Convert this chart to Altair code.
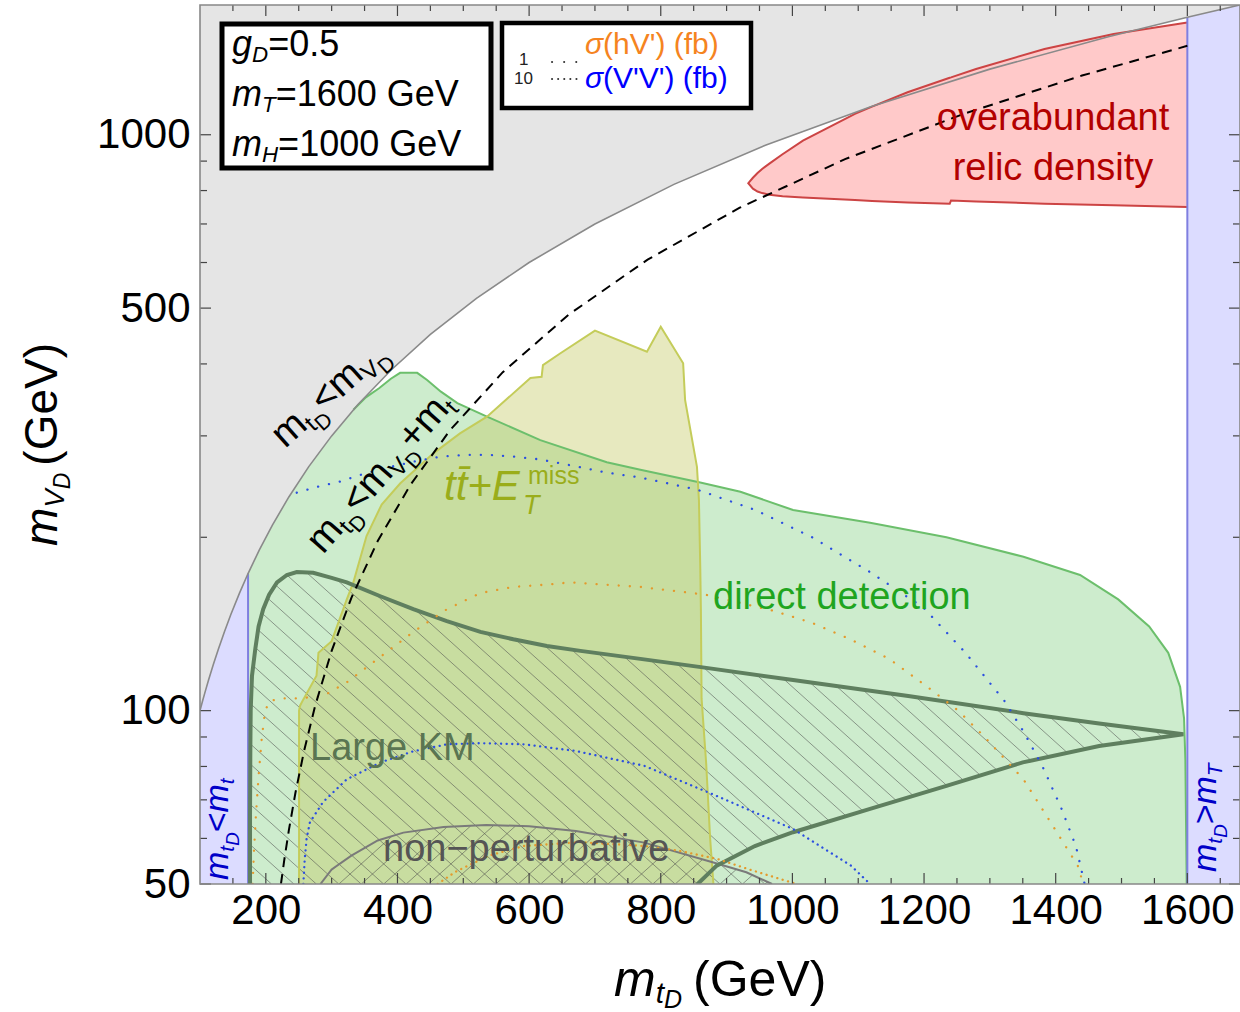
import numpy as np
import pandas as pd
import altair as alt

# ---------------- values ----------------
x_ticks_major = [200, 400, 600, 800, 1000, 1200, 1400, 1600]
x_ticks_minor = [150, 250, 300, 350, 450, 500, 550, 650, 700, 750, 850, 900, 950,
                 1050, 1100, 1150, 1250, 1300, 1350, 1450, 1500, 1550, 1650]
y_ticks_major = [50, 100, 500, 1000]
y_ticks_minor = [60, 70, 80, 90, 200, 300, 400, 600, 700, 800, 900]

# kinematic boundary m_tD = m_VD
diag_x = [100, 104, 108, 113, 120, 128, 137, 147, 160, 173, 190, 210, 235, 265, 300, 340,
          390, 450, 520, 600, 700, 820, 960, 1120, 1300, 1480, 1600, 1680]
diag_y = [100, 104, 108, 113, 120, 128, 137, 147, 160, 173, 190, 210, 235, 265, 300, 340,
          390, 450, 520, 600, 700, 820, 960, 1120, 1300, 1480, 1600, 1680]
# m_tD = m_VD + m_t (dashed)
dash_x = [223, 228, 235, 245, 258, 275, 300, 330, 370, 420, 480, 560, 660, 780, 920, 1080, 1260, 1440, 1600]
dash_y = [50, 55, 62, 72, 85, 102, 127, 157, 197, 247, 307, 387, 487, 607, 747, 907, 1087, 1267, 1427]

# direct detection region (upper edge, filled down to the axis)
dd_x = [173, 185, 200, 220, 250, 280, 310, 333, 352, 372, 390, 404, 430, 445, 466, 491, 536, 617,
        718, 769, 860, 921, 1001, 1118, 1234, 1351, 1437, 1495, 1542, 1571, 1589, 1595, 1597, 1599]
dd_y = [173, 185, 200, 220, 250, 280, 310, 333, 350, 363, 377, 386, 386, 375, 358, 342, 324, 295,
        270, 262, 249, 240, 223, 212, 200, 185, 172, 156, 140, 126, 110, 97, 82, 50]

# t tbar + MET exclusion (upper edge)
tt_x = [250.5, 252, 257, 277, 280, 300, 323, 333, 353, 376, 404, 455, 495, 536, 602, 619, 621, 647,
        700, 779, 800, 834, 837, 855, 858, 860, 861, 862, 869, 875, 880]
tt_y = [100, 102, 104.6, 115, 126, 132, 156, 167, 201, 228, 248, 280, 303, 324, 378, 380, 398, 417,
        457, 420, 464, 401, 346, 265, 232, 178, 149, 105, 81, 60, 50]

# overabundant relic density
rd_x = [933, 940, 947, 954, 965, 985, 1016, 1095, 1121, 1175, 1239, 1241, 1279, 1383, 1488, 1600]
rd_up = [824, 842, 858, 872, 891, 925, 977, 1087, 1119, 1185, 1256, 1258, 1301, 1409, 1496, 1567]
rd_lo = [824, 806, 797, 792, 787, 782, 778, 770, 767, 763, 759, 769, 766, 759, 754, 749]

# Large KM region
km_up_x = [176, 176, 176.5, 177, 179, 184, 189, 196, 205, 217, 232, 247, 272, 300, 323, 374, 424,
           475, 526, 576, 627, 678, 769, 861, 1001, 1176, 1351, 1466, 1594]
km_up_y = [50, 66, 86, 100, 115, 128, 140, 150, 159, 167, 172, 174, 173.5, 170, 167, 158, 150,
           143, 137, 133, 129.5, 127, 123, 119, 113, 106, 99, 95, 91]
km_lo_x = [1594, 1466, 1350, 1234, 1118, 1001, 943, 885, 856]
km_lo_y = [91, 86.8, 81.3, 74, 67.5, 61.5, 58.2, 53.8, 50]

# non-perturbative region
np_x = [283, 300, 330, 370, 409, 470, 535, 600, 671, 775, 880, 930, 969]
np_y = [50, 53, 56, 59.5, 61.4, 62.8, 63.3, 63, 61.8, 59, 54.5, 52.4, 50]

# sigma(V'V') contours: 1 fb and 10 fb
vv1_x = [247, 280, 313, 350, 389, 427, 465, 503, 541, 579, 617, 668, 718, 769, 855, 944, 1030,
         1118, 1199, 1263, 1322, 1351, 1380, 1409, 1431, 1444]
vv1_y = [239, 245, 250, 258, 265, 271, 276, 278, 278, 276, 273, 266, 259, 254, 242, 223, 200,
         174, 151, 126, 104, 92, 80, 67.5, 58, 50]
vv10_x = [257, 259, 262, 267, 287, 323, 374, 424, 475, 526, 592, 671, 775, 880, 1001, 1089, 1118]
vv10_y = [50, 55, 60, 64, 69.4, 76, 81.3, 85, 87.4, 87.8, 87.4, 85.1, 80.2, 71.5, 62.3, 53.8, 50]
# sigma(hV') contours: 1 fb and 10 fb
hv1_x = [180, 182, 185, 189, 194, 199, 206, 225, 247, 287, 323, 374, 424, 475, 526, 576, 627, 662,
         769, 868, 972, 1030, 1088, 1147, 1205, 1252, 1292, 1351, 1396, 1437, 1440]
hv1_y = [50, 57, 66, 77, 90, 100, 104, 105, 105, 106, 112, 124, 137, 150, 160, 164, 165.5, 167,
         164, 159, 149, 142, 133, 123, 110, 100, 90, 76, 63, 53, 50]
hv10_x = [461, 488, 539, 592, 678, 775, 828, 885, 932, 1006]
hv10_y = [50, 52.5, 56, 58.2, 59.1, 58.2, 57.1, 55.3, 53.1, 50]

m_top = 173
m_T = 1600

# ---------------- geometry of the plot area ----------------
W, H = 1040, 879
XMIN, XMAX, YMIN, YMAX = 100, 1680, 50, 1680
LEFT, TOP = 200, 5


def to_px(x):
    return (np.asarray(x, float) - XMIN) / (XMAX - XMIN) * W


def to_py(y):
    return H * (1 - np.log(np.asarray(y, float) / YMIN) / np.log(YMAX / YMIN))


def from_px(p):
    return XMIN + np.asarray(p) / W * (XMAX - XMIN)


def from_py(q):
    return YMIN * np.exp((1 - np.asarray(q) / H) * np.log(YMAX / YMIN))


XS = alt.Scale(domain=[XMIN, XMAX], nice=False, zero=False)
YS = alt.Scale(type="log", domain=[YMIN, YMAX], nice=False)
XAX = alt.Axis(values=x_ticks_major, title=None, grid=False, ticks=False, domain=False,
               labelFontSize=42, labelPadding=6, labelColor="black", labelFont="Liberation Sans",
               format="d", labelFlush=False)
YAX = alt.Axis(values=y_ticks_major, title=None, grid=False, ticks=False, domain=False,
               labelFontSize=42, labelPadding=10, labelColor="black", labelFont="Liberation Sans",
               format="d")


def X(f="x"):
    return alt.X(f"{f}:Q", scale=XS, axis=XAX)


def Y(f="y"):
    return alt.Y(f"{f}:Q", scale=YS, axis=YAX)


def area(xs, ys, y2, color, opacity=1.0):
    d = pd.DataFrame({"x": xs, "y": ys})
    d["y2"] = y2 if np.ndim(y2) else [y2] * len(d)
    return alt.Chart(d).mark_area(color=color, opacity=opacity, clip=True).encode(
        x=X(), y=Y(), y2=alt.Y2("y2:Q"))


def path(xs, ys, color, width, dash=None, cap="butt", opacity=1.0):
    d = pd.DataFrame({"x": xs, "y": ys})
    d["o"] = np.arange(len(d))
    kw = dict(color=color, strokeWidth=width, clip=True, strokeCap=cap, opacity=opacity)
    if dash:
        kw["strokeDash"] = dash
    return alt.Chart(d).mark_line(**kw).encode(x=X(), y=Y(), order="o:Q")


def in_poly(px, py, polx, poly):
    c = np.zeros(len(px), bool)
    n = len(polx)
    j = n - 1
    for i in range(n):
        xi, yi, xj, yj = polx[i], poly[i], polx[j], poly[j]
        if yi != yj:
            cond = ((yi > py) != (yj > py)) & (px < (xj - xi) * (py - yi) / (yj - yi) + xi)
            c ^= cond
        j = i
    return c


def hatch(test, slope, spacing):
    rows = []
    step = spacing * np.sqrt(1 + slope ** 2)
    pxs = np.arange(0, W + 0.01, 0.25)
    lo = min(0, -slope * W) - 5
    hi = max(H, H - slope * W) + 5
    seg = 0
    for c in np.arange(lo, hi, step):
        pys = slope * pxs + c
        ok = (pys >= 0) & (pys <= H)
        if not ok.any():
            continue
        ins = np.zeros(len(pxs), bool)
        ins[ok] = test(pxs[ok], pys[ok])
        d = np.diff(np.concatenate([[0], ins.astype(int), [0]]))
        starts = np.where(d == 1)[0]
        ends = np.where(d == -1)[0] - 1
        for s_, e_ in zip(starts, ends):
            if e_ - s_ < 3:
                continue
            for k, idx in enumerate((s_, e_)):
                rows.append({"seg": seg, "o": k, "x": float(from_px(pxs[idx])),
                             "y": float(from_py(min(pys[idx], H - 0.01)))})
            seg += 1
    return pd.DataFrame(rows)


km_px = to_px(km_up_x + km_lo_x[1:])
km_py = to_py(km_up_y + km_lo_y[1:])
np_px = to_px(np_x)
np_py = to_py(np_y)


def test_back(px, py):
    return in_poly(px, py, km_px, km_py) | in_poly(px, py, np_px, np_py)


def test_np(px, py):
    return in_poly(px, py, np_px, np_py)


hatch_back = hatch(test_back, 0.9, 15)
hatch_fwd = hatch(test_np, -0.9, 15)


def hatch_layer(d):
    return alt.Chart(d).mark_line(color="#4a4a4a", strokeWidth=0.9, opacity=0.6, clip=True).encode(
        x=X(), y=Y(), detail="seg:N", order="o:Q")


# ---------------- rich text helper ----------------
AW = {' ': 278, '(': 333, ')': 333, '+': 584, '<': 584, '>': 584, '=': 584, '.': 278, "'": 191,
      '\u2212': 584, 'a': 556, 'b': 556, 'c': 500, 'd': 556, 'e': 556, 'f': 278, 'g': 556, 'h': 556,
      'i': 222, 'k': 500, 'l': 222, 'm': 833, 'n': 556, 'o': 556, 'p': 556, 'r': 333, 's': 500,
      't': 278, 'u': 556, 'v': 500, 'y': 500, 'D': 722, 'E': 667, 'G': 778, 'H': 722, 'K': 667,
      'L': 556, 'M': 833, 'T': 611, 'V': 667, '\u03c3': 600, '\u0304': 0}
DUMMY = pd.DataFrame({"a": [0]})
FONT = "Liberation Sans"


def tw(s, size):
    return sum(AW.get(ch, 556) for ch in s) * size / 1000.0


def rich(segs, x0, y0, angle=0, color="black", align="left"):
    """segs: (text, size, baseline shift in px, italic[, extra advance]).
    x0, y0: page pixels of the baseline start."""
    a = np.deg2rad(angle)
    fx, fy = np.cos(a), np.sin(a)
    nx, ny = -np.sin(a), np.cos(a)
    total = sum(tw(s[0], s[1]) + (s[4] if len(s) > 4 else 0) for s in segs)
    adv = -total / 2 if align == "center" else 0.0
    out = []
    for s in segs:
        text, size, shift, italic = s[:4]
        extra = s[4] if len(s) > 4 else 0
        adv += extra
        if text.strip():
            px = x0 + fx * adv + nx * shift - LEFT
            py = y0 + fy * adv + ny * shift - TOP
            out.append(alt.Chart(DUMMY).mark_text(
                text=text, fontSize=size, font=FONT, fontStyle="italic" if italic else "normal",
                color=color, align="left", baseline="alphabetic", angle=angle % 360).encode(
                x=alt.value(float(px)), y=alt.value(float(py))))
        adv += tw(text, size)
    return out


def msub(main, sub, subsub, size, italic, s1=0.17, s2=0.32, f1=0.62, f2=0.55):
    s = [(main, size, 0, italic), (sub, size * f1, size * s1, italic)]
    if subsub:
        s.append((subsub, size * f2, size * s2, italic))
    return s


# ---------------- layers ----------------
layers = []
# grey excluded region above the diagonal
layers.append(area(diag_x, diag_y, YMAX, "#e5e5e5"))
# direct detection
layers.append(area(dd_x, dd_y, YMIN, "#cdeccd"))
# ttbar + MET
layers.append(area(tt_x, tt_y, YMIN, "#c0c556", 0.38))
# relic density
layers.append(area(rd_x, rd_up, rd_lo, "#ffc9c9"))
# purple strips
left_n = diag_x.index(m_top) + 1
layers.append(area(diag_x[:left_n], diag_y[:left_n], YMIN, "#dcdcff"))
layers.append(area([m_T, XMAX], [m_T, XMAX], YMIN, "#dcdcff"))

# hatching
layers.append(hatch_layer(hatch_back))
layers.append(hatch_layer(hatch_fwd))

# edges
i333 = dd_x.index(333)
layers.append(path(dd_x[i333:], dd_y[i333:], "#6cbf6c", 2))
layers.append(path([tt_x[0]] + tt_x, [YMIN] + tt_y, "#c4cc5a", 2))
layers.append(path(rd_x[::-1] + rd_x[1:], rd_lo[::-1] + rd_up[1:], "#cc4444", 2))
layers.append(path([m_top, m_top], [YMIN, m_top], "#7f7fe0", 2))
layers.append(path([m_T, m_T], [YMIN, m_T], "#7f7fe0", 2))
layers.append(path(diag_x, diag_y, "#8a8a8a", 1.6))
layers.append(path(np_x, np_y, "#7a7a7a", 2))
layers.append(path(km_up_x + km_lo_x[1:], km_up_y + km_lo_y[1:], "#5f7f5f", 4, cap="round"))

# cross-section contours
layers.append(path(vv1_x, vv1_y, "#2b4fe0", 2.3, dash=[0.1, 11], cap="round"))
layers.append(path(vv10_x, vv10_y, "#2b4fe0", 2.3, dash=[0.1, 5.5], cap="round"))
layers.append(path(hv1_x, hv1_y, "#e39a2d", 2.3, dash=[0.1, 11], cap="round"))
layers.append(path(hv10_x, hv10_y, "#e39a2d", 2.3, dash=[0.1, 5.5], cap="round"))

# m_tD = m_VD + m_t
layers.append(path(dash_x, dash_y, "black", 2, dash=[10, 7]))

# ---------------- texts ----------------
layers += rich([("overabundant", 38, 0, False)], 1053, 130, color="#b30000", align="center")
layers += rich([("relic density", 38, 0, False)], 1053, 180, color="#b30000", align="center")
layers += rich([("direct detection", 38, 0, False)], 713, 609, color="#1fa51f")
layers += rich([("Large KM", 38, 0, False)], 310, 760, color="#5a7552")
layers += rich([("non\u2212perturbative", 38, 0, False)], 383, 861, color="#555555")
layers += rich([("tt\u0304+E", 42, 0, True)], 444, 500, color="#9aad1a")
layers += rich([("miss", 25, 0, False)], 528, 484, color="#9aad1a")
layers += rich([("T", 27, 0, True)], 523, 514, color="#9aad1a")

lab_a = msub("m", "t", "D", 39, False) + [("<", 39, 0, False, -2)] + msub("m", "V", "D", 39, False)
layers += rich(lab_a, 285, 449, angle=318)
lab_b = (msub("m", "t", "D", 39, False) + [("<", 39, 0, False, -2)] + msub("m", "V", "D", 39, False)
         + [("+", 39, 0, False, -2)] + msub("m", "t", None, 39, False))
layers += rich(lab_b, 323, 555, angle=311.4)
lab_c = msub("m", "t", "D", 34, True) + [("<", 34, 0, False)] + msub("m", "t", None, 34, True)
layers += rich(lab_c, 228, 880, angle=270, color="#0000c8")
lab_d = msub("m", "t", "D", 34, True) + [(">", 34, 0, False)] + msub("m", "T", None, 34, True)
layers += rich(lab_d, 1216, 872, angle=270, color="#0000c8")

# axis titles
layers += rich(msub("m", "t", "D", 50, True, s1=0.13, s2=0.23, f1=0.6, f2=0.5)
               + [("(GeV)", 50, 0, False, 11)], 614, 996)
layers += rich(msub("m", "V", "D", 46, True, s1=0.15, s2=0.28, f1=0.6, f2=0.5)
               + [("(GeV)", 46, 0, False, 7)], 57, 546, angle=270)

# ---------------- ticks (inside the frame) ----------------
def xticks(vals, length):
    d = pd.DataFrame({"x": vals})
    b = alt.Chart(d).mark_rule(color="#444444", strokeWidth=1.2)
    return [b.encode(x=X(), y=alt.value(H), y2=alt.value(H - length)),
            b.encode(x=X(), y=alt.value(0), y2=alt.value(length))]


def yticks(vals, length):
    d = pd.DataFrame({"y": vals})
    b = alt.Chart(d).mark_rule(color="#444444", strokeWidth=1.2)
    return [b.encode(y=Y(), x=alt.value(0), x2=alt.value(length)),
            b.encode(y=Y(), x=alt.value(W), x2=alt.value(W - length))]


layers += xticks(x_ticks_major, 11) + xticks(x_ticks_minor, 6)
layers += yticks(y_ticks_major, 11) + yticks(y_ticks_minor, 7)

# frame
layers.append(alt.Chart(DUMMY).mark_rect(fillOpacity=0, stroke="#888888", strokeWidth=1.6).encode(
    x=alt.value(0), x2=alt.value(W), y=alt.value(0), y2=alt.value(H)))

# ---------------- legend boxes ----------------
layers.append(alt.Chart(DUMMY).mark_rect(fill="white", stroke="black", strokeWidth=5).encode(
    x=alt.value(222 - LEFT), x2=alt.value(491 - LEFT), y=alt.value(24 - TOP), y2=alt.value(168 - TOP)))
layers.append(alt.Chart(DUMMY).mark_rect(fill="white", stroke="black", strokeWidth=4.5).encode(
    x=alt.value(502 - LEFT), x2=alt.value(751 - LEFT), y=alt.value(23 - TOP), y2=alt.value(108 - TOP)))

layers += rich(msub("g", "D", None, 36, True) + [("=0.5", 36, 0, False)], 232, 56)
layers += rich(msub("m", "T", None, 36, True) + [("=1600 GeV", 36, 0, False)], 232, 106)
layers += rich(msub("m", "H", None, 36, True) + [("=1000 GeV", 36, 0, False)], 232, 156)

layers += rich([("1", 17, 0, False)], 519, 65, color="#222222")
layers += rich([("10", 17, 0, False)], 514, 84, color="#222222")
dots = pd.DataFrame({"a": [0]})
layers.append(alt.Chart(dots).mark_rule(color="#333333", strokeWidth=2, strokeCap="round",
                                        strokeDash=[0.1, 12]).encode(
    x=alt.value(552 - LEFT), x2=alt.value(578 - LEFT), y=alt.value(62 - TOP)))
layers.append(alt.Chart(dots).mark_rule(color="#333333", strokeWidth=2, strokeCap="round",
                                        strokeDash=[0.1, 6]).encode(
    x=alt.value(552 - LEFT), x2=alt.value(578 - LEFT), y=alt.value(79 - TOP)))
layers += rich([("\u03c3", 30, 0, True), ("(hV') (fb)", 30, 0, False)], 585, 54, color="#f5841f")
layers += rich([("\u03c3", 30, 0, True), ("(V'V') (fb)", 30, 0, False)], 585, 88, color="#0000ff")

chart = alt.layer(*layers).properties(
    width=W, height=H,
    autosize=alt.AutoSizeParams(type="none"),
    padding={"left": LEFT, "top": TOP, "right": 0, "bottom": 1012 - TOP - H},
).configure_view(stroke=None).configure_axis(labelFont=FONT)

chart.save("out.html", embed_options={"renderer": "svg", "actions": False})
